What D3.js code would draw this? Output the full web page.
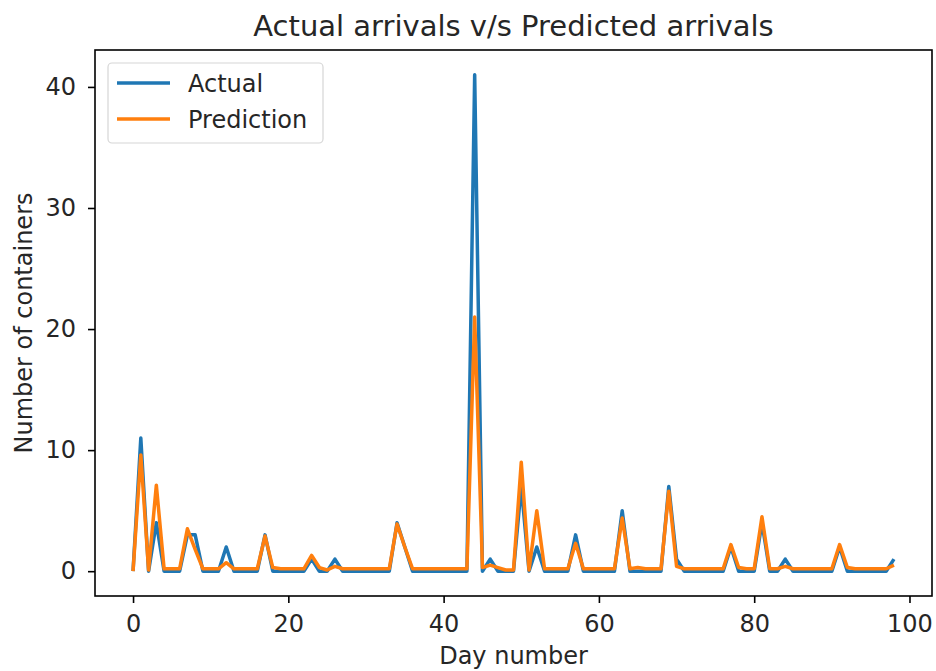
<!DOCTYPE html>
<html>
<head>
<meta charset="utf-8">
<script src="https://cdn.jsdelivr.net/npm/d3@7"></script>
<style>
    body { margin: 0; background: #ffffff; }
    svg { display: block; }
</style>
</head>
<body>
<div id="chart"></div>
<script>
// day-by-day container counts
var days = d3.range(0, 99);
var actual = [
    0, 11, 0, 4, 0, 0, 0, 3, 3, 0,
    0, 0, 2, 0, 0, 0, 0, 3, 0, 0,
    0, 0, 0, 1, 0, 0, 1, 0, 0, 0,
    0, 0, 0, 0, 4, 2, 0, 0, 0, 0,
    0, 0, 0, 0, 41, 0, 1, 0, 0, 0,
    7, 0, 2, 0, 0, 0, 0, 3, 0, 0,
    0, 0, 0, 5, 0, 0, 0, 0, 0, 7,
    1, 0, 0, 0, 0, 0, 0, 2, 0, 0,
    0, 4, 0, 0, 1, 0, 0, 0, 0, 0,
    0, 2, 0, 0, 0, 0, 0, 0, 1
];
var prediction = [
    0, 9.6, 0.1, 7.1, 0.2, 0.2, 0.2, 3.5, 1.8, 0.2,
    0.2, 0.2, 0.7, 0.2, 0.2, 0.2, 0.2, 2.9, 0.3, 0.2,
    0.2, 0.2, 0.2, 1.3, 0.3, 0.1, 0.4, 0.2, 0.2, 0.2,
    0.2, 0.2, 0.2, 0.2, 3.9, 2, 0.2, 0.2, 0.2, 0.2,
    0.2, 0.2, 0.2, 0.2, 21, 0.3, 0.5, 0.3, 0.1, 0.1,
    9, 0.1, 5, 0.2, 0.2, 0.2, 0.2, 2.3, 0.2, 0.2,
    0.2, 0.2, 0.2, 4.4, 0.2, 0.3, 0.2, 0.2, 0.2, 6.6,
    0.4, 0.2, 0.2, 0.2, 0.2, 0.2, 0.2, 2.2, 0.3, 0.2,
    0.2, 4.5, 0.2, 0.2, 0.4, 0.2, 0.2, 0.2, 0.2, 0.2,
    0.2, 2.2, 0.3, 0.2, 0.2, 0.2, 0.2, 0.2, 0.5
];
var xTicks = [0, 20, 40, 60, 80, 100];
var yTicks = [0, 10, 20, 30, 40];
var seriesNames = ["Actual", "Prediction"];
var colors = ["#1f77b4", "#ff7f0e"];

var W = 936, H = 671;
var plotL = 95, plotR = 932, plotT = 50, plotB = 596;
var font = "DejaVu Sans";
var txt = "#262626";

var svg = d3.select("#chart").append("svg")
    .attr("width", W)
    .attr("height", H);

// matplotlib style 5% margins
var xPad = (d3.max(days) - d3.min(days)) * 0.05;
var x = d3.scaleLinear()
    .domain([d3.min(days) - xPad, d3.max(days) + xPad])
    .range([plotL, plotR]);
var yMax = d3.max(actual.concat(prediction));
var y = d3.scaleLinear()
    .domain([-yMax * 0.05, yMax * 1.05])
    .range([plotB, plotT]);

// AXES
var xAxis = svg.append("g")
    .attr("transform", "translate(0," + plotB + ")")
    .call(d3.axisBottom(x).tickValues(xTicks).tickSize(7).tickPadding(12).tickSizeOuter(0));
var yAxis = svg.append("g")
    .attr("transform", "translate(" + plotL + ",0)")
    .call(d3.axisLeft(y).tickValues(yTicks).tickSize(7).tickPadding(12).tickSizeOuter(0));

[xAxis, yAxis].forEach(function(a) {
    a.select(".domain").remove();
    a.selectAll("line").attr("stroke", "#000").attr("stroke-width", 1.6);
    a.selectAll("text")
        .attr("fill", txt)
        .style("font-family", font)
        .style("font-size", "24px");
});

// LINES
var line = d3.line()
    .x(function(d, i) { return x(days[i]); })
    .y(function(d) { return y(d); });

[actual, prediction].forEach(function(s, i) {
    svg.append("path")
        .datum(s)
        .attr("d", line)
        .attr("fill", "none")
        .attr("stroke", colors[i])
        .attr("stroke-width", 3.5)
        .attr("stroke-linejoin", "round");
});

// frame
svg.append("rect")
    .attr("x", plotL)
    .attr("y", plotT)
    .attr("width", plotR - plotL)
    .attr("height", plotB - plotT)
    .attr("fill", "none")
    .attr("stroke", "#000")
    .attr("stroke-width", 1.6);

// LABELS
svg.append("text")
    .attr("x", (plotL + plotR) / 2)
    .attr("y", 36)
    .attr("text-anchor", "middle")
    .style("font-family", font)
    .style("font-size", "29px")
    .attr("fill", txt)
    .text("Actual arrivals v/s Predicted arrivals");

svg.append("text")
    .attr("x", (plotL + plotR) / 2)
    .attr("y", 664)
    .attr("text-anchor", "middle")
    .style("font-family", font)
    .style("font-size", "24px")
    .attr("fill", txt)
    .text("Day number");

svg.append("text")
    .attr("transform", "translate(32," + (plotT + plotB) / 2 + ") rotate(-90)")
    .attr("text-anchor", "middle")
    .style("font-family", font)
    .style("font-size", "24px")
    .attr("fill", txt)
    .text("Number of containers");

// LEGEND
var legend = svg.append("g");
legend.append("rect")
    .attr("x", 108)
    .attr("y", 63)
    .attr("width", 215)
    .attr("height", 80)
    .attr("rx", 4)
    .attr("fill", "#ffffff")
    .attr("fill-opacity", 0.8)
    .attr("stroke", "#d6d6d6")
    .attr("stroke-width", 1.2);

seriesNames.forEach(function(name, i) {
    var ly = 83 + i * 36;
    legend.append("line")
        .attr("x1", 117)
        .attr("x2", 170)
        .attr("y1", ly)
        .attr("y2", ly)
        .attr("stroke", colors[i])
        .attr("stroke-width", 3.5);
    legend.append("text")
        .attr("x", 188)
        .attr("y", ly + 9)
        .style("font-family", font)
        .style("font-size", "24px")
        .attr("fill", txt)
        .text(name);
});
</script>
</body>
</html>
